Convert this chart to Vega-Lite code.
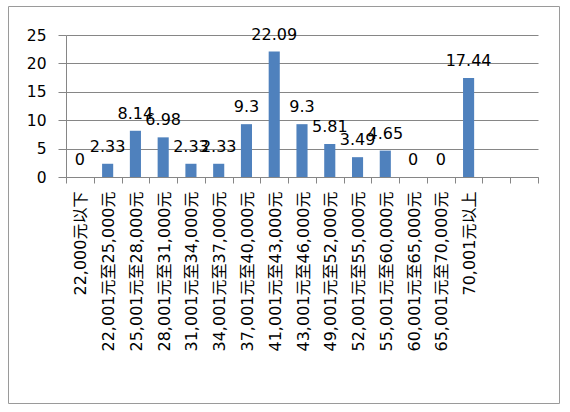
{
  "$schema": "https://vega.github.io/schema/vega-lite/v6.json",
  "width": 551,
  "height": 397,
  "autosize": {"type": "none"},
  "padding": {"left": 8, "top": 6, "right": 11, "bottom": 9},
  "background": "white",
  "data": {
    "values": [
      {"cat": "22,000元以下", "value": 0},
      {"cat": "22,001元至25,000元", "value": 2.33},
      {"cat": "25,001元至28,000元", "value": 8.14},
      {"cat": "28,001元至31,000元", "value": 6.98},
      {"cat": "31,001元至34,000元", "value": 2.33},
      {"cat": "34,001元至37,000元", "value": 2.33},
      {"cat": "37,001元至40,000元", "value": 9.3},
      {"cat": "41,001元至43,000元", "value": 22.09},
      {"cat": "43,001元至46,000元", "value": 9.3},
      {"cat": "49,001元至52,000元", "value": 5.81},
      {"cat": "52,001元至55,000元", "value": 3.49},
      {"cat": "55,001元至60,000元", "value": 4.65},
      {"cat": "60,001元至65,000元", "value": 0},
      {"cat": "65,001元至70,000元", "value": 0},
      {"cat": "70,001元以上", "value": 17.44}
    ]
  },
  "encoding": {
    "x": {
      "field": "cat",
      "type": "nominal",
      "sort": null,
      "scale": {
        "type": "band",
        "paddingInner": 0,
        "paddingOuter": 0,
        "range": [58, 530],
        "domain": ["22,000元以下", "22,001元至25,000元", "25,001元至28,000元", "28,001元至31,000元", "31,001元至34,000元", "34,001元至37,000元", "37,001元至40,000元", "41,001元至43,000元", "43,001元至46,000元", "49,001元至52,000元", "52,001元至55,000元", "55,001元至60,000元", "60,001元至65,000元", "65,001元至70,000元", "70,001元以上", " ", "  "]
      },
      "axis": {
        "title": null,
        "offset": -226,
        "domain": true,
        "domainColor": "#868686",
        "grid": false,
        "tickBand": "extent",
        "tickSize": 6,
        "tickColor": "#868686",
        "labelAngle": -90,
        "labelPadding": 8,
        "labelOffset": 1,
        "labelFont": "DejaVu Sans, Noto Sans CJK SC",
        "labelFontSize": 16,
        "labelColor": "#000000",
        "labelOverlap": false,
        "labelLimit": 0
      }
    },
    "y": {
      "field": "value",
      "type": "quantitative",
      "scale": {"domain": [0, 25], "range": [171, 29], "nice": false},
      "axis": {
        "title": null,
        "offset": -58,
        "values": [0, 5, 10, 15, 20, 25],
        "domain": true,
        "domainColor": "#868686",
        "grid": true,
        "gridColor": "#868686",
        "gridOpacity": 1,
        "tickSize": 8,
        "tickColor": "#868686",
        "labelPadding": 12,
        "labelFont": "DejaVu Sans",
        "labelFontSize": 15.5,
        "labelColor": "#000000",
        "labelOverlap": false
      }
    }
  },
  "layer": [
    {
      "mark": {"type": "bar", "color": "#4F81BD", "width": {"band": 0.4}}
    },
    {
      "mark": {"type": "text", "dy": -12, "baseline": "alphabetic", "font": "DejaVu Sans", "fontSize": 16, "color": "#000000"},
      "encoding": {
        "text": {"field": "value", "type": "quantitative"}
      }
    }
  ],
  "config": {
    "view": {"stroke": "#9a9a9a", "strokeWidth": 1}
  }
}
